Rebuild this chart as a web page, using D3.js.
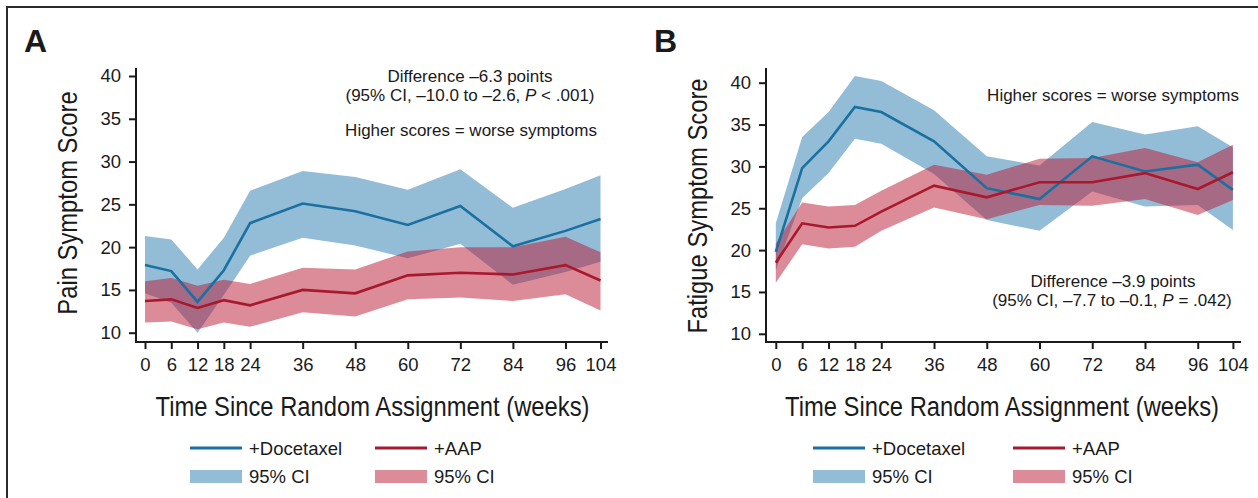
<!DOCTYPE html>
<html>
<head>
<meta charset="utf-8">
<script src="https://cdn.jsdelivr.net/npm/d3@7"></script>
<style>
  html, body { margin: 0; padding: 0; background: #fff; }
  svg { display: block; }
  text { font-family: "Liberation Sans", Arial, sans-serif; }
</style>
</head>
<body>
<svg id="chart" width="1258" height="498"></svg>
<script>
// ---------- data ----------
const weeks = [0, 6, 12, 18, 24, 36, 48, 60, 72, 84, 96, 104];
const yTicks = [10, 15, 20, 25, 30, 35, 40];

// Panel A: pain
const painDocMean = [17.9, 17.2, 13.6, 17.3, 22.8, 25.1, 24.2, 22.6, 24.8, 20.1, 21.9, 23.3];
const painDocLow  = [14.6, 13.5, 10.0, 14.4, 19.0, 21.1, 20.2, 18.7, 20.4, 15.6, 17.1, 18.3];
const painDocHigh = [21.3, 20.9, 17.4, 21.1, 26.6, 28.9, 28.2, 26.7, 29.1, 24.6, 26.8, 28.4];
const painAapMean = [13.7, 13.9, 12.9, 13.8, 13.2, 15.0, 14.6, 16.7, 17.0, 16.8, 17.9, 16.1];
const painAapLow  = [11.2, 11.3, 10.4, 11.2, 10.7, 12.4, 11.9, 13.9, 14.1, 13.7, 14.5, 12.6];
const painAapHigh = [16.0, 16.4, 15.5, 16.2, 15.7, 17.6, 17.4, 19.5, 20.0, 20.0, 21.2, 19.4];

// Panel B: fatigue
const fatDocMean = [19.8, 29.8, 33.0, 37.1, 36.5, 33.0, 27.4, 26.1, 31.2, 29.4, 30.2, 27.2];
const fatDocLow  = [17.6, 26.2, 29.2, 33.3, 32.7, 29.1, 23.6, 22.3, 27.0, 25.2, 25.4, 22.4];
const fatDocHigh = [23.2, 33.5, 36.5, 40.8, 40.2, 36.7, 31.2, 30.1, 35.3, 33.8, 34.8, 32.3];
const fatAapMean = [18.5, 23.2, 22.7, 22.9, 24.6, 27.7, 26.3, 28.1, 28.1, 29.2, 27.3, 29.3];
const fatAapLow  = [16.1, 20.7, 20.2, 20.4, 22.3, 25.1, 23.7, 25.4, 25.3, 26.1, 24.2, 26.0];
const fatAapHigh = [20.8, 25.7, 25.2, 25.4, 27.1, 30.2, 29.0, 30.9, 31.0, 32.2, 30.5, 32.6];

const seriesNames = ["+Docetaxel", "+AAP"];
const ciLabel = "95% CI";
const xTitle = "Time Since Random Assignment (weeks)";

// ---------- styles ----------
const ink = "#1a1a1a";
const blueLine = "#1a70a0";
const blueFill = "#93bcd6";
const redLine = "#a8192e";
const redFill = "rgba(185,23,49,0.5)";
const condense = 0.865;

const svg = d3.select("#chart");

// frame
svg.append("path")
  .attr("d", "M7,500 L7,7 L1260,7")
  .attr("fill", "none").attr("stroke", "#2b2b2b").attr("stroke-width", 2);

function panel(cfg) {
  const g = svg.append("g");
  const x = d3.scaleLinear().domain([0, 104]).range([cfg.x0, cfg.x1]);
  const y = d3.scaleLinear().domain([10, 40]).range([cfg.y10, cfg.y40]);
  const rows = weeks.map((w, i) => ({w, dm: cfg.dm[i], dl: cfg.dl[i], dh: cfg.dh[i], am: cfg.am[i], al: cfg.al[i], ah: cfg.ah[i]}));

  const area = (lo, hi) => d3.area().x(d => x(d.w)).y0(d => y(d[lo])).y1(d => y(d[hi]));
  const line = (k) => d3.line().x(d => x(d.w)).y(d => y(d[k]));

  g.append("path").datum(rows).attr("d", area("dl", "dh")).attr("fill", blueFill);
  g.append("path").datum(rows).attr("d", area("al", "ah")).attr("fill", redFill);
  g.append("path").datum(rows).attr("d", line("dm")).attr("fill", "none").attr("stroke", blueLine).attr("stroke-width", 2.6);
  g.append("path").datum(rows).attr("d", line("am")).attr("fill", "none").attr("stroke", redLine).attr("stroke-width", 2.6);

  // axes
  const yAxis = g.append("g").attr("transform", `translate(${cfg.axX},0)`)
    .call(d3.axisLeft(y).tickValues(yTicks).tickSize(7).tickPadding(8).tickSizeOuter(0));
  const xAxis = g.append("g").attr("transform", `translate(0,${cfg.axY})`)
    .call(d3.axisBottom(x).tickValues(weeks).tickSize(7).tickPadding(9).tickSizeOuter(0));
  [yAxis, xAxis].forEach(a => {
    a.select(".domain").remove();
    a.selectAll(".tick line").attr("stroke", ink).attr("stroke-width", 2);
    a.selectAll(".tick text").attr("font-size", 18.5).attr("fill", ink)
      .attr("font-family", "'Liberation Sans', Arial, sans-serif");
  });
  // spines
  g.append("line").attr("x1", cfg.axX).attr("x2", cfg.axX).attr("y1", cfg.axTop).attr("y2", cfg.axY + 1)
    .attr("stroke", ink).attr("stroke-width", 2);
  g.append("line").attr("x1", cfg.axX - 1).attr("x2", cfg.axRight).attr("y1", cfg.axY).attr("y2", cfg.axY)
    .attr("stroke", ink).attr("stroke-width", 2);

  // panel letter
  g.append("text").attr("x", cfg.letterX).attr("y", 52)
    .attr("font-size", 32).attr("font-weight", "bold").attr("fill", ink).text(cfg.letter);

  // y title
  g.append("text").attr("font-size", 27.5).attr("fill", ink)
    .attr("text-anchor", "middle")
    .attr("transform", `translate(${cfg.yTitleX},${cfg.yTitleY}) rotate(-90) scale(${condense},1)`)
    .text(cfg.yTitle);
  // x title
  g.append("text").attr("font-size", 27.5).attr("fill", ink)
    .attr("text-anchor", "middle")
    .attr("transform", `translate(${cfg.xTitleX},416) scale(${condense},1)`)
    .text(xTitle);

  // annotations
  cfg.notes.forEach(n => {
    const t = g.append("text").attr("font-size", 17).attr("fill", ink)
      .attr("text-anchor", "middle").attr("x", n.x).attr("y", n.y);
    n.parts.forEach(p => t.append("tspan").attr("font-style", p.i ? "italic" : null).text(p.t));
  });

  // legend
  const lx = cfg.legX;
  const items = [
    {dx: 0, row: 0, type: "line", color: blueLine, label: seriesNames[0]},
    {dx: cfg.legGap, row: 0, type: "line", color: redLine, label: seriesNames[1]},
    {dx: 0, row: 1, type: "rect", color: blueFill, label: ciLabel},
    {dx: cfg.legGap, row: 1, type: "rect", color: redFill, label: ciLabel}
  ];
  items.forEach(it => {
    const yy = it.row === 0 ? 448 : 476.5;
    if (it.type === "line") {
      g.append("line").attr("x1", lx + it.dx).attr("x2", lx + it.dx + 52).attr("y1", yy).attr("y2", yy)
        .attr("stroke", it.color).attr("stroke-width", 3);
    } else {
      g.append("rect").attr("x", lx + it.dx).attr("y", yy - 6.5).attr("width", 52).attr("height", 13)
        .attr("fill", it.color);
    }
    g.append("text").attr("font-size", 18.5).attr("fill", ink)
      .attr("x", lx + it.dx + 59).attr("y", yy + 6.5).text(it.label);
  });
}

panel({
  letter: "A", letterX: 24,
  x0: 145, x1: 600.5, y10: 332.7, y40: 76,
  axX: 136, axY: 342, axTop: 68, axRight: 608,
  yTitle: "Pain Symptom Score", yTitleX: 77, yTitleY: 203,
  xTitleX: 372.5,
  dm: painDocMean, dl: painDocLow, dh: painDocHigh, am: painAapMean, al: painAapLow, ah: painAapHigh,
  notes: [
    {x: 470, y: 82, parts: [{t: "Difference –6.3 points"}]},
    {x: 470, y: 101, parts: [{t: "(95% CI, –10.0 to –2.6, "}, {t: "P", i: true}, {t: " < .001)"}]},
    {x: 471, y: 136, parts: [{t: "Higher scores = worse symptoms"}]}
  ],
  legX: 190, legGap: 185
});

panel({
  letter: "B", letterX: 654,
  x0: 775.8, x1: 1232.9, y10: 333.8, y40: 82.7,
  axX: 766, axY: 342, axTop: 68, axRight: 1241,
  yTitle: "Fatigue Symptom Score", yTitleX: 707, yTitleY: 206,
  xTitleX: 1002,
  dm: fatDocMean, dl: fatDocLow, dh: fatDocHigh, am: fatAapMean, al: fatAapLow, ah: fatAapHigh,
  notes: [
    {x: 1113, y: 101, parts: [{t: "Higher scores = worse symptoms"}]},
    {x: 1113, y: 287, parts: [{t: "Difference –3.9 points"}]},
    {x: 1112, y: 306, parts: [{t: "(95% CI, –7.7 to –0.1, "}, {t: "P", i: true}, {t: " = .042)"}]}
  ],
  legX: 813, legGap: 200
});
</script>
</body>
</html>
